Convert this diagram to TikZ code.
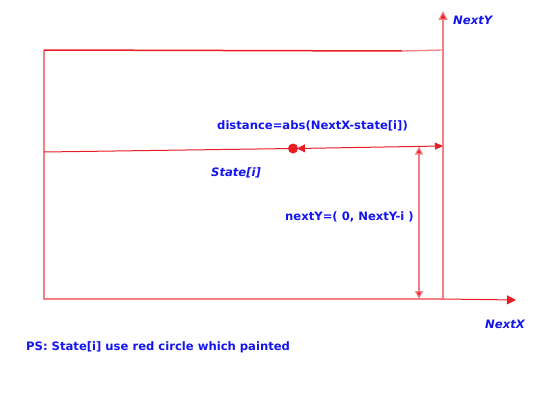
\documentclass[tikz,border=0pt]{standalone}
\usepackage{fontspec}
\setmainfont{DejaVu Sans}
\usetikzlibrary{arrows.meta}
\definecolor{pinkred}{RGB}{242,128,132}
\definecolor{darkred}{RGB}{236,28,36}
\definecolor{txtblue}{RGB}{20,20,240}
\begin{document}
\begin{tikzpicture}[x=1pt,y=-1pt,
  thinline/.style={draw=pinkred,line width=1.3pt},
  boldline/.style={draw=darkred,line width=1.5pt},
  lbl/.style={text=txtblue,font=\fontsize{11.6}{13}\selectfont\bfseries,inner sep=0pt},
  ilbl/.style={lbl,font=\fontsize{11.6}{13}\selectfont\bfseries\itshape}]
\useasboundingbox (0,0) rectangle (560,420);
% coordinates
\coordinate (TL) at (44,50);
\coordinate (TM) at (402,51);
\coordinate (TR) at (443,50);
\coordinate (BL) at (44,299);
\coordinate (BR) at (443,299);
\coordinate (YT) at (443,11);
\coordinate (XR) at (516,300);
\coordinate (ML) at (44,152);
\coordinate (MR) at (443,146);
\coordinate (DA) at (297,148.5);
\coordinate (VT) at (419,146.5);
\coordinate (VB) at (419,299);
\node[circle,fill=darkred,inner sep=0pt,minimum size=10pt] (dot) at (293,148.5) {};
% rectangle
\draw[thinline] (TL) -- (BL) -- (BR);
\draw[thinline] (TM) -- (TR);
\draw[boldline] (TL) -- (TM);
% axes
\draw[thinline,-{Triangle[length=9pt,width=9pt,fill=darkred]}] (BR) -- (YT);
\draw[boldline,line width=1pt,-{Triangle[length=9pt,width=9pt]}] (BR) -- (XR);
% middle line
\draw[draw=darkred,line width=1pt] (ML) -- (dot);
\draw[draw=darkred,line width=1pt,{Triangle[length=8pt,width=8pt]}-{Triangle[length=8pt,width=7pt]}] (DA) -- (MR);
% vertical distance
\draw[thinline,{Triangle[length=8pt,width=8pt,fill=darkred]}-{Triangle[length=8pt,width=8pt,fill=darkred]}] (VT) -- (VB);
% labels
\node[ilbl,anchor=west] (ny) at (453,20) {NextY};
\node[ilbl,anchor=west] (nx) at (485,324) {NextX};
\node[lbl,anchor=west] (dist) at (217,126) {distance=abs(NextX-state[i])};
\node[ilbl,anchor=west] (st) at (211,173) {State[i]};
\node[lbl,anchor=west] (nyv) at (285,217) {nextY=( 0, NextY-i )};
\node[lbl,anchor=west] (ps) at (26,347) {PS: State[i] use red circle which painted};
\end{tikzpicture}
\end{document}
